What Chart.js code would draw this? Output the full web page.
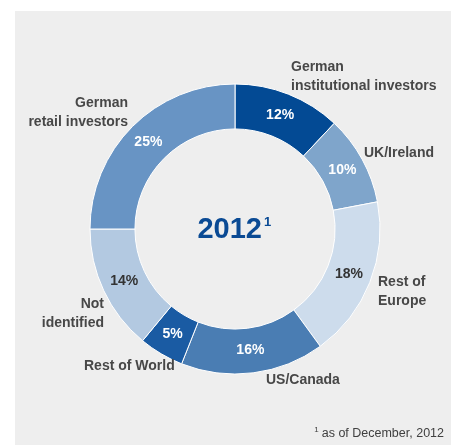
<!DOCTYPE html>
<html>
<head>
<meta charset="utf-8">
<script src="https://cdn.jsdelivr.net/npm/chart.js@4"></script>
<style>
  html, body { margin: 0; padding: 0; background: #ffffff; }
  #wrap { position: relative; width: 451px; height: 445px; }
</style>
</head>
<body>
<div id="wrap"><canvas id="shareChart" width="451" height="445"></canvas></div>
<script>
// Shareholder structure 2012 (Doughnut)
const categories = ['German institutional investors', 'UK/Ireland', 'Rest of Europe', 'US/Canada', 'Rest of World', 'Not identified', 'German retail investors'];
const shares = [12, 10, 18, 16, 5, 14, 25];
const colors = ['#034a94', '#7fa5cb', '#cddcec', '#4a7db3', '#1a5ba3', '#b3c9e1', '#6894c4'];
const valueColors = ['#ffffff', '#ffffff', '#333333', '#ffffff', '#ffffff', '#333333', '#ffffff'];

// outside label lines and anchors (align, x, y of first line)
const labelLines = [
  ['German', 'institutional investors'],
  ['UK/Ireland'],
  ['Rest of', 'Europe'],
  ['US/Canada'],
  ['Rest of World'],
  ['Not', 'identified'],
  ['German', 'retail investors']
];
const labelPlaces = [
  ['left', 291, 67],
  ['left', 364, 153],
  ['left', 378, 282],
  ['left', 266, 380],
  ['left', 84, 366],
  ['right', 104, 304],
  ['right', 128, 103]
];

const panelPlugin = {
  id: 'panel',
  beforeDraw(chart) {
    const ctx = chart.ctx;
    ctx.save();
    ctx.fillStyle = '#eeeeee';
    ctx.fillRect(15, 11, 436, 434);
    ctx.restore();
  }
};

const labelPlugin = {
  id: 'labels',
  afterDraw(chart) {
    const ctx = chart.ctx;
    const meta = chart.getDatasetMeta(0);
    ctx.save();
    ctx.textBaseline = 'middle';

    // values inside the ring
    ctx.font = 'bold 14px "Liberation Sans", Arial, sans-serif';
    ctx.textAlign = 'center';
    meta.data.forEach((arc, i) => {
      const p = arc.tooltipPosition();
      ctx.fillStyle = valueColors[i];
      ctx.fillText(shares[i] + '%', p.x, p.y);
    });

    // category names outside
    ctx.font = 'bold 14px "Liberation Sans", Arial, sans-serif';
    ctx.fillStyle = '#474747';
    labelLines.forEach((lines, i) => {
      const [align, x, y] = labelPlaces[i];
      ctx.textAlign = align;
      lines.forEach((t, j) => ctx.fillText(t, x, y + j * 19));
    });

    // centre title
    const c = meta.data[0];
    ctx.fillStyle = '#0a4a94';
    ctx.font = 'bold 29px "Liberation Sans", Arial, sans-serif';
    ctx.textAlign = 'right';
    ctx.fillText('2012', c.x + 27, c.y + 1);
    ctx.font = 'bold 13px "Liberation Sans", Arial, sans-serif';
    ctx.textAlign = 'left';
    ctx.fillText('1', c.x + 29, c.y - 7);

    // footnote
    ctx.fillStyle = '#404040';
    ctx.font = '12.5px "Liberation Sans", Arial, sans-serif';
    ctx.textAlign = 'right';
    const note = 'as of December, 2012';
    ctx.fillText(note, 444, 434);
    const w = ctx.measureText(note).width;
    ctx.font = '8px "Liberation Sans", Arial, sans-serif';
    ctx.fillText('1', 444 - w - 3, 430);
    ctx.restore();
  }
};

const shareCtx = document.getElementById('shareChart').getContext('2d');
new Chart(shareCtx, {
  type: 'doughnut',
  data: {
    labels: categories,
    datasets: [{
      data: shares,
      backgroundColor: colors,
      borderColor: '#ffffff',
      borderWidth: 1
    }]
  },
  options: {
    responsive: false,
    animation: false,
    radius: 145,
    cutout: '69%',
    layout: { padding: { left: 40, right: 21, top: 20, bottom: 7 } },
    plugins: {
      legend: { display: false },
      tooltip: { enabled: false }
    }
  },
  plugins: [panelPlugin, labelPlugin]
});
</script>
</body>
</html>
